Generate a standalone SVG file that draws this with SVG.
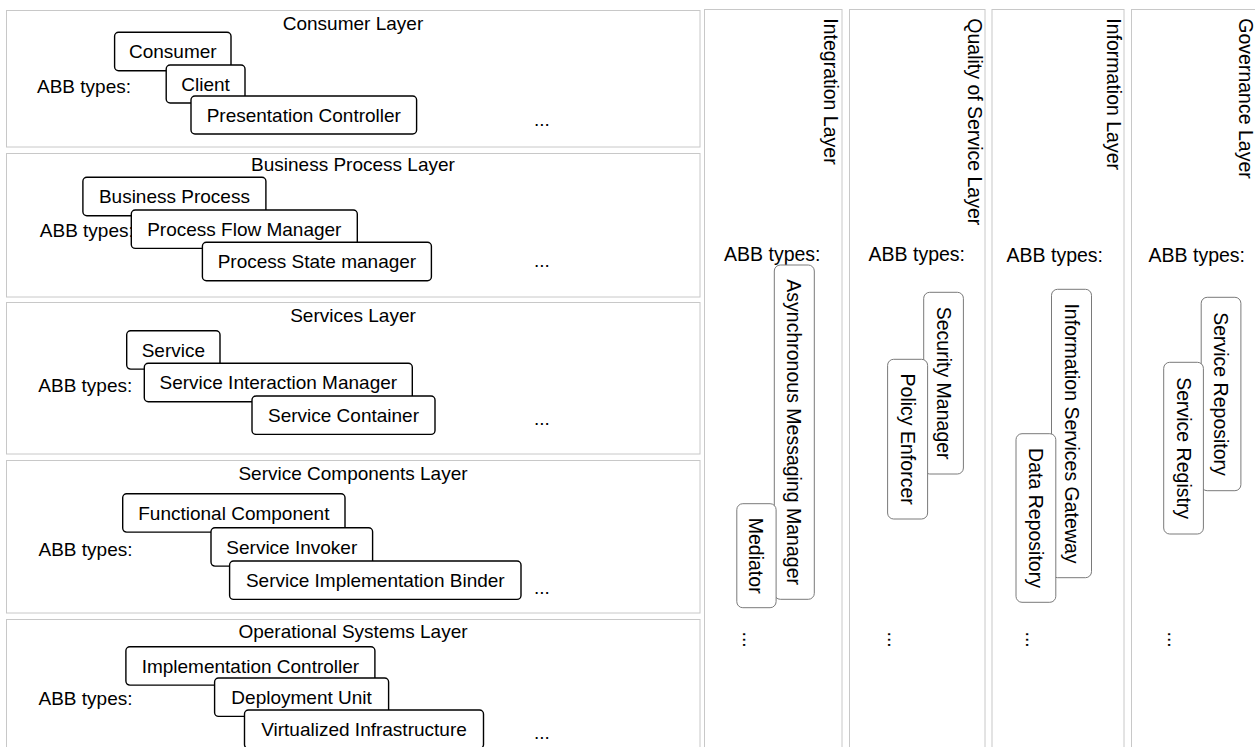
<svg xmlns="http://www.w3.org/2000/svg" width="1255" height="747" viewBox="0 0 1255 747">
<style>
text{font-family:"Liberation Sans",Arial,Helvetica,sans-serif;font-size:19px;fill:#000}
.v text{font-size:19.5px}
.layer{fill:#fff;stroke:#c8c8c8;stroke-width:1}
.hn{fill:#fff;stroke:#000;stroke-width:1.4}
.vn{fill:#fff;stroke:#7a7a7a;stroke-width:1}
.c{text-anchor:middle}
.e{text-anchor:end}
</style>
<rect width="1255" height="747" fill="#fff"/>

<!-- horizontal layers -->
<g id="consumer-layer">
<rect class="layer" x="6.5" y="10.5" width="693.5" height="136.5"/>
<text class="c" x="353" y="29.5">Consumer Layer</text>
<text x="37" y="93">ABB types:</text>
<text x="534" y="126">...</text>
</g>
<g id="consumer"><rect class="hn" x="114.6" y="32.3" width="116.4" height="38.4" rx="4"/><text class="c" x="172.8" y="58.3">Consumer</text></g>
<g id="client"><rect class="hn" x="166.2" y="65" width="78.8" height="38" rx="4"/><text class="c" x="205.6" y="91">Client</text></g>
<g id="presentation-controller"><rect class="hn" x="191" y="96" width="225.6" height="38" rx="4"/><text class="c" x="303.8" y="122">Presentation Controller</text></g>

<g id="business-process-layer">
<rect class="layer" x="6.5" y="153.5" width="693.5" height="143.5"/>
<text class="c" x="353" y="171">Business Process Layer</text>
<text x="39.8" y="236.5">ABB types:</text>
<text x="534" y="267">...</text>
</g>
<g id="business-process"><rect class="hn" x="82.9" y="177.3" width="183" height="38.4" rx="4"/><text class="c" x="174.4" y="203.3">Business Process</text></g>
<g id="process-flow-manager"><rect class="hn" x="131.3" y="210" width="226" height="38.4" rx="4"/><text class="c" x="244.3" y="236">Process Flow Manager</text></g>
<g id="process-state-manager"><rect class="hn" x="202.4" y="242.3" width="229" height="38.4" rx="4"/><text class="c" x="316.9" y="268.3">Process State manager</text></g>

<g id="services-layer">
<rect class="layer" x="6.5" y="302.5" width="693.5" height="151.5"/>
<text class="c" x="353" y="321.5">Services Layer</text>
<text x="38.3" y="392">ABB types:</text>
<text x="534" y="425">...</text>
</g>
<g id="service"><rect class="hn" x="126.7" y="330.7" width="93.3" height="38.4" rx="4"/><text class="c" x="173.35" y="356.7">Service</text></g>
<g id="service-interaction-manager"><rect class="hn" x="144.3" y="363.3" width="268" height="38.4" rx="4"/><text class="c" x="278.3" y="389.3">Service Interaction Manager</text></g>
<g id="service-container"><rect class="hn" x="252" y="396" width="183" height="38.4" rx="4"/><text class="c" x="343.5" y="422">Service Container</text></g>

<g id="service-components-layer">
<rect class="layer" x="6.5" y="460.5" width="693.5" height="152.5"/>
<text class="c" x="353" y="480">Service Components Layer</text>
<text x="38.5" y="556">ABB types:</text>
<text x="534" y="594">...</text>
</g>
<g id="functional-component"><rect class="hn" x="122.7" y="493.7" width="222.3" height="38.4" rx="4"/><text class="c" x="233.85" y="519.7">Functional Component</text></g>
<g id="service-invoker"><rect class="hn" x="211" y="527.7" width="161.6" height="38.4" rx="4"/><text class="c" x="291.8" y="553.7">Service Invoker</text></g>
<g id="service-implementation-binder"><rect class="hn" x="229.6" y="561" width="291.4" height="38.4" rx="4"/><text class="c" x="375.3" y="587">Service Implementation Binder</text></g>

<g id="operational-systems-layer">
<rect class="layer" x="6.5" y="619.5" width="693.5" height="140"/>
<text class="c" x="353" y="638">Operational Systems Layer</text>
<text x="38.5" y="705">ABB types:</text>
<text x="534" y="739">...</text>
</g>
<g id="implementation-controller"><rect class="hn" x="125.9" y="646.7" width="249" height="38.4" rx="4"/><text class="c" x="250.4" y="672.7">Implementation Controller</text></g>
<g id="deployment-unit"><rect class="hn" x="214.6" y="678" width="174" height="38.4" rx="4"/><text class="c" x="301.6" y="704">Deployment Unit</text></g>
<g id="virtualized-infrastructure"><rect class="hn" x="244.5" y="710" width="239" height="38.4" rx="4"/><text class="c" x="364" y="736">Virtualized Infrastructure</text></g>

<!-- vertical layers -->
<g class="v">
<g id="integration-layer">
<rect class="layer" x="704.5" y="9.5" width="137.5" height="760"/>
<text transform="translate(824,18.3) rotate(90)">Integration Layer</text>
<text class="e" x="820.5" y="261">ABB types:</text>
<text transform="translate(742.5,631.5) rotate(90)">...</text>
</g>
<g id="asynchronous-messaging-manager"><rect class="vn" x="774.3" y="265" width="40" height="334.3" rx="6"/><text class="c" transform="translate(794.3,432.15) rotate(90)" y="7">Asynchronous Messaging Manager</text></g>
<g id="mediator"><rect class="vn" x="736.8" y="503.7" width="39.3" height="104" rx="6"/><text class="c" transform="translate(756.45,555.7) rotate(90)" y="7">Mediator</text></g>

<g id="quality-of-service-layer">
<rect class="layer" x="849.5" y="9.5" width="135.5" height="760"/>
<text transform="translate(968,18.3) rotate(90)">Quality of Service Layer</text>
<text class="e" x="965" y="261">ABB types:</text>
<text transform="translate(888,631.5) rotate(90)">...</text>
</g>
<g id="security-manager"><rect class="vn" x="923.7" y="292.3" width="39.7" height="181.7" rx="6"/><text class="c" transform="translate(943.55,383.15) rotate(90)" y="7">Security Manager</text></g>
<g id="policy-enforcer"><rect class="vn" x="887.6" y="359.3" width="40" height="159.7" rx="6"/><text class="c" transform="translate(907.6,439.15) rotate(90)" y="7">Policy Enforcer</text></g>

<g id="information-layer">
<rect class="layer" x="992" y="9.5" width="132" height="760"/>
<text transform="translate(1107.3,18.3) rotate(90)">Information Layer</text>
<text class="e" x="1103" y="262">ABB types:</text>
<text transform="translate(1026,631.5) rotate(90)">...</text>
</g>
<g id="information-services-gateway"><rect class="vn" x="1051.5" y="289.3" width="40" height="288.4" rx="6"/><text class="c" transform="translate(1071.5,433.5) rotate(90)" y="7">Information Services Gateway</text></g>
<g id="data-repository"><rect class="vn" x="1016" y="433.7" width="39.8" height="168.6" rx="6"/><text class="c" transform="translate(1035.9,518) rotate(90)" y="7">Data Repository</text></g>

<g id="governance-layer">
<rect class="layer" x="1131.5" y="9.5" width="140" height="760"/>
<text transform="translate(1238.5,18.3) rotate(90)">Governance Layer</text>
<text class="e" x="1245" y="262">ABB types:</text>
<text transform="translate(1168,631.5) rotate(90)">...</text>
</g>
<g id="service-repository"><rect class="vn" x="1201.2" y="297.3" width="39.7" height="193.4" rx="6"/><text class="c" transform="translate(1221.05,394) rotate(90)" y="7">Service Repository</text></g>
<g id="service-registry"><rect class="vn" x="1163.7" y="362.3" width="39.7" height="171.7" rx="6"/><text class="c" transform="translate(1183.55,448.15) rotate(90)" y="7">Service Registry</text></g>
</g>

<g id="connectors"></g>
</svg>
